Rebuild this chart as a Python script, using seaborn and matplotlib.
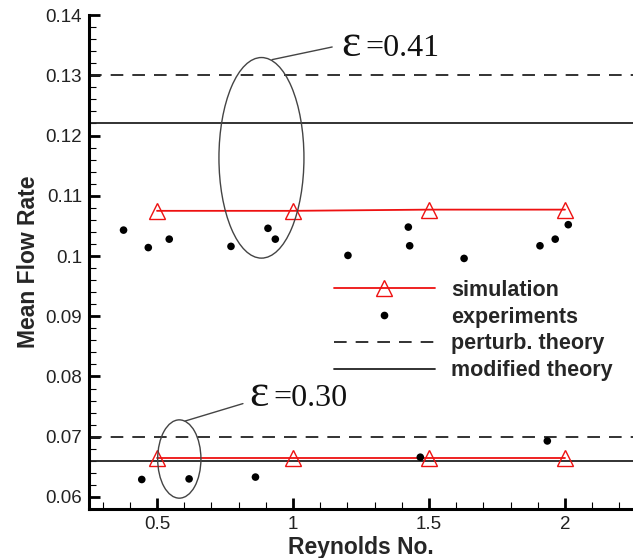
import numpy as np
import pandas as pd
import seaborn as sns
import matplotlib
matplotlib.use("Agg")
import matplotlib.pyplot as plt
from matplotlib.patches import Ellipse
from matplotlib.lines import Line2D
from matplotlib.ticker import MultipleLocator

# ---------------- data ----------------
sim_re = [0.5, 1.0, 1.5, 2.0]
sim_upper = [0.1075, 0.1075, 0.1077, 0.1077]
sim_lower = [0.0664, 0.0664, 0.0664, 0.0664]

exp_re_upper = [0.377, 0.468, 0.545, 0.772, 0.908, 0.935, 1.202, 1.424, 1.429,
                1.629, 1.908, 1.964, 2.012]
exp_q_upper = [0.1043, 0.1014, 0.1028, 0.1016, 0.1046, 0.1028, 0.1001, 0.1048,
               0.1017, 0.0996, 0.1017, 0.1028, 0.1052]
exp_re_lower = [0.444, 0.618, 0.862, 1.468, 1.935]
exp_q_lower = [0.0629, 0.0630, 0.0633, 0.0666, 0.0693]

perturb_theory = [0.130, 0.070]
modified_theory = [0.1221, 0.0660]

eps_values = ["=0.41", "=0.30"]

sim_df = pd.concat([
    pd.DataFrame({"Re": sim_re, "Q": sim_upper, "eps": "0.41"}),
    pd.DataFrame({"Re": sim_re, "Q": sim_lower, "eps": "0.30"}),
])
exp_df = pd.DataFrame({"Re": exp_re_upper + exp_re_lower,
                       "Q": exp_q_upper + exp_q_lower})

# ---------------- figure ----------------
sns.set_style("ticks")
plt.rcParams["font.family"] = ["Liberation Sans", "DejaVu Sans"]

fig = plt.figure(figsize=(6.33, 5.58), dpi=100)
ax = fig.add_axes([0.1406, 0.0878, 1.0 - 0.1406, 0.973 - 0.0878])

red = "#ee1111"
for i, (eps, sub) in enumerate(sim_df.groupby("eps", sort=False)):
    sns.lineplot(data=sub, x="Re", y="Q", ax=ax, color=red, lw=1.3,
                 marker="^", markersize=12, markerfacecolor="none",
                 markeredgecolor=red, markeredgewidth=1.0,
                 legend=False, zorder=3)

sns.scatterplot(data=exp_df, x="Re", y="Q", ax=ax, color="black", s=30,
                edgecolor="none", legend=False, zorder=5)

dash = (0, (7, 5))
for v in perturb_theory:
    ax.axhline(v, color="#222222", lw=1.3, ls=dash, zorder=1)
for v in modified_theory:
    ax.axhline(v, color="#222222", lw=1.3, zorder=1)

# ellipses + annotations
ell_specs = [((0.884, 0.1163), 0.3125, 0.0333), ((0.582, 0.0663), 0.159, 0.0130)]
for (c, w, h) in ell_specs:
    ax.add_patch(Ellipse(c, w, h, fill=False, edgecolor="#444444", lw=1.0, zorder=4))

ann_specs = [((0.923, 0.1326), (1.144, 0.1347), (1.178, 0.13315)),
             ((0.603, 0.0726), (0.816, 0.0755), (0.840, 0.07513))]
serif = ["Liberation Serif", "DejaVu Serif"]
for val, (p0, p1, pt) in zip(eps_values, ann_specs):
    ax.annotate("", xy=p0, xytext=p1,
                arrowprops=dict(arrowstyle="-", color="#444444", lw=1.0,
                                shrinkA=0, shrinkB=0))
    ax.text(pt[0], pt[1], "ε", ha="left", va="baseline", fontsize=33,
            family=serif, color="#111111")
    ax.annotate(val, xy=pt, xytext=(17, 0), textcoords="offset points",
                ha="left", va="baseline", fontsize=23, family=serif,
                color="#111111")

ax.set_xlim(0.25, 2.25)
ax.set_ylim(0.058, 0.14)
ax.xaxis.set_minor_locator(MultipleLocator(0.1))
ax.yaxis.set_minor_locator(MultipleLocator(0.002))
ax.set_xticks([0.5, 1.0, 1.5, 2.0])
ax.set_xticklabels(["0.5", "1", "1.5", "2"])
ax.set_yticks([0.06, 0.07, 0.08, 0.09, 0.10, 0.11, 0.12, 0.13, 0.14])
ax.set_yticklabels(["0.06", "0.07", "0.08", "0.09", "0.1", "0.11", "0.12", "0.13", "0.14"])

ax.tick_params(which="major", direction="in", length=8, width=2.0,
               labelsize=13.5, pad=5, colors="black", labelcolor="#222222")
ax.tick_params(which="minor", direction="in", length=5, width=0.8, colors="black")

for s in ["top", "right"]:
    ax.spines[s].set_visible(False)
for s in ["left", "bottom"]:
    ax.spines[s].set_linewidth(2.2)
    ax.spines[s].set_color("black")

ax.set_xlabel("Reynolds No.", fontsize=16.5, fontweight="bold", labelpad=2)
ax.set_ylabel("Mean Flow Rate", fontsize=16.5, fontweight="bold", labelpad=4)

handles = [
    Line2D([], [], color=red, lw=1.3, marker="^", markersize=12,
           markerfacecolor="none", markeredgecolor=red, markeredgewidth=1.0),
    Line2D([], [], ls="none", marker="o", color="black", markersize=4.5),
    Line2D([], [], color="#222222", lw=1.3, ls=dash),
    Line2D([], [], color="#222222", lw=1.3),
]
labels = ["simulation", "experiments", "perturb. theory", "modified theory"]
ax.legend(handles, labels, loc="upper left",
          bbox_to_anchor=(0.450, 0.464), frameon=False,
          prop={"weight": "bold", "size": 15.5},
          handlelength=4.7, handletextpad=0.75, labelspacing=0.27,
          borderaxespad=0, borderpad=0)

fig.savefig("out.png", dpi=100)
